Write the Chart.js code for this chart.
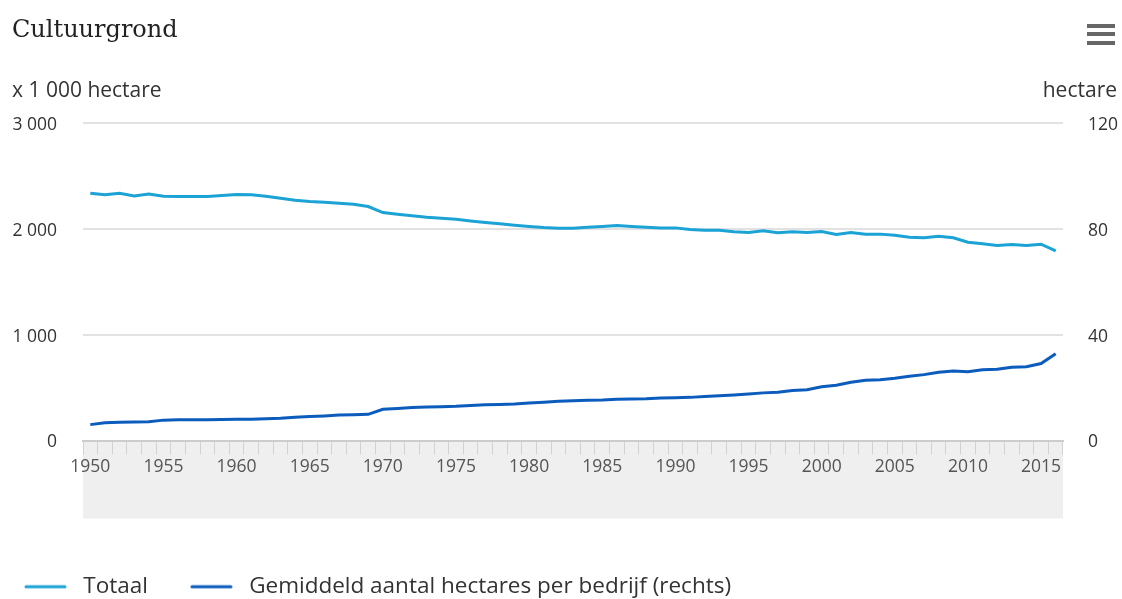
<!DOCTYPE html>
<html lang="nl">
<head>
<meta charset="utf-8">
<title>Cultuurgrond</title>
<script src="https://cdn.jsdelivr.net/npm/chart.js@4.4.1/dist/chart.umd.min.js"></script>
<style>
  html, body { margin: 0; padding: 0; background: #ffffff; }
  #wrap { width: 1122px; height: 599px; position: relative; }
</style>
</head>
<body>
<div id="wrap"><canvas id="landChart"></canvas></div>
<script>
// Years on the x axis
const years = [
    1950, 1951, 1952, 1953, 1954, 1955, 1956, 1957, 1958, 1959,
    1960, 1961, 1962, 1963, 1964, 1965, 1966, 1967, 1968, 1969,
    1970, 1971, 1972, 1973, 1974, 1975, 1976, 1977, 1978, 1979,
    1980, 1981, 1982, 1983, 1984, 1985, 1986, 1987, 1988, 1989,
    1990, 1991, 1992, 1993, 1994, 1995, 1996, 1997, 1998, 1999,
    2000, 2001, 2002, 2003, 2004, 2005, 2006, 2007, 2008, 2009,
    2010, 2011, 2012, 2013, 2014, 2015, 2016
];

// Totaal, x 1 000 hectare (left axis)
const totaal = [
    2337, 2321, 2337, 2311, 2330, 2308, 2305, 2305, 2305, 2314,
    2324, 2321, 2308, 2289, 2270, 2258, 2252, 2242, 2233, 2211,
    2154, 2138, 2123, 2110, 2101, 2091, 2075, 2060, 2047, 2034,
    2022, 2012, 2006, 2006, 2016, 2022, 2031, 2022, 2016, 2009,
    2009, 1994, 1987, 1987, 1972, 1965, 1981, 1962, 1972, 1965,
    1975, 1946, 1965, 1950, 1950, 1940, 1921, 1915, 1931, 1915,
    1874, 1858, 1843, 1852, 1843, 1855, 1792
];

// Gemiddeld aantal hectares per bedrijf (right axis)
const gemiddeld = [
    6.0, 6.7, 6.9, 7.0, 7.1, 7.7, 7.8, 7.8, 7.8, 7.9,
    8.0, 8.0, 8.2, 8.4, 8.8, 9.1, 9.3, 9.6, 9.7, 9.9,
    11.8, 12.1, 12.5, 12.7, 12.8, 12.9, 13.2, 13.5, 13.6, 13.8,
    14.2, 14.5, 14.8, 15.0, 15.2, 15.3, 15.6, 15.7, 15.8, 16.1,
    16.2, 16.3, 16.6, 16.9, 17.2, 17.6, 18.0, 18.2, 18.9, 19.2,
    20.3, 20.9, 22.0, 22.8, 23.0, 23.5, 24.3, 24.9, 25.8, 26.3,
    26.0, 26.7, 26.9, 27.7, 27.9, 29.1, 32.8
];

const leftTicks = [0, 1000, 2000, 3000];
const rightTicks = [0, 40, 80, 120];

const colorTotaal = "#1ba3d6";
const colorGemiddeld = "#0b5cbd";
const sansFont = "'Open Sans', 'DejaVu Sans', sans-serif";

// little line sample for the legend, with some empty room left and right
function legendSample(color) {
    let c = document.createElement("canvas");
    c.width = 65;
    c.height = 6;
    let g = c.getContext("2d");
    g.strokeStyle = color;
    g.lineWidth = 3;
    g.lineCap = "round";
    g.beginPath();
    g.moveTo(19, 3);
    g.lineTo(58, 3);
    g.stroke();
    return c;
}

function spaced(v) {
    return String(v).replace(/\B(?=(\d{3})+(?!\d))/g, " ");
}

// grey band under the plot, title, axis captions and menu icon
const decorations = {
    id: "decorations",
    beforeDraw(chart) {
        let ctx = chart.ctx;
        let a = chart.chartArea;
        ctx.save();
        ctx.fillStyle = "#efefef";
        ctx.fillRect(a.left, a.bottom, a.right - a.left, 78);
        ctx.restore();
    },
    afterDraw(chart) {
        let ctx = chart.ctx;
        ctx.save();
        ctx.fillStyle = "#222222";
        ctx.textBaseline = "alphabetic";
        ctx.font = "24px 'DejaVu Serif', serif";
        ctx.textAlign = "left";
        ctx.fillText("Cultuurgrond", 12, 37);

        ctx.fillStyle = "#333333";
        ctx.font = "21px " + sansFont;
        ctx.fillText("x 1 000 hectare", 12, 97);
        ctx.textAlign = "right";
        ctx.fillText("hectare", 1117, 97);

        ctx.fillStyle = "#666666";
        [24, 32, 41].forEach(y => ctx.fillRect(1087, y, 28, 4));
        ctx.restore();
    }
};

document.addEventListener("DOMContentLoaded", function () {
    let ctx = document.getElementById("landChart").getContext("2d");

    new Chart(ctx, {
        type: "line",
        data: {
            labels: years,
            datasets: [
                {
                    label: "Totaal",
                    data: totaal,
                    yAxisID: "y",
                    borderColor: colorTotaal,
                    backgroundColor: colorTotaal,
                    borderWidth: 3,
                    pointRadius: 0,
                    pointHoverRadius: 0,
                    pointStyle: legendSample(colorTotaal),
                    tension: 0,
                    fill: false
                },
                {
                    label: "Gemiddeld aantal hectares per bedrijf (rechts)",
                    data: gemiddeld,
                    yAxisID: "y1",
                    borderColor: colorGemiddeld,
                    backgroundColor: colorGemiddeld,
                    borderWidth: 3,
                    pointRadius: 0,
                    pointHoverRadius: 0,
                    pointStyle: legendSample(colorGemiddeld),
                    tension: 0,
                    fill: false
                }
            ]
        },
        options: {
            responsive: true,
            maintainAspectRatio: false,
            animation: false,
            layout: { padding: { top: 123, left: -18, right: 0, bottom: -9 } },
            plugins: {
                title: { display: false },
                tooltip: { enabled: false },
                legend: {
                    position: "bottom",
                    align: "start",
                    labels: {
                        usePointStyle: true,
                        pointStyleWidth: 65,
                        padding: 25,
                        color: "#333333",
                        font: { family: sansFont, size: 22.5 }
                    }
                }
            },
            scales: {
                x: {
                    offset: true,
                    grid: {
                        offset: true,
                        drawOnChartArea: false,
                        drawTicks: true,
                        tickLength: 14,
                        color: "#d2d2d2",
                        lineWidth: 1
                    },
                    border: { display: true, color: "#cccccc", width: 2 },
                    ticks: {
                        autoSkip: false,
                        maxRotation: 0,
                        padding: 2,
                        color: "#555555",
                        font: { family: sansFont, size: 17.5 },
                        callback: function (value, index) {
                            let yr = years[index];
                            return yr % 5 === 0 ? String(yr) : "";
                        }
                    },
                    afterFit: scale => { scale.height = 110; }
                },
                y: {
                    position: "left",
                    min: leftTicks[0],
                    max: leftTicks[leftTicks.length - 1],
                    afterBuildTicks: scale => { scale.ticks = leftTicks.map(v => ({ value: v })); },
                    grid: { color: "#e2e2e2", lineWidth: 2, drawTicks: false },
                    border: { display: false },
                    ticks: {
                        padding: 26,
                        labelOffset: 2,
                        color: "#333333",
                        font: { family: sansFont, size: 17.5 },
                        callback: v => spaced(v)
                    },
                    afterFit: scale => { scale.width = 101; }
                },
                y1: {
                    position: "right",
                    min: rightTicks[0],
                    max: rightTicks[rightTicks.length - 1],
                    afterBuildTicks: scale => { scale.ticks = rightTicks.map(v => ({ value: v })); },
                    grid: { drawOnChartArea: false, drawTicks: false },
                    border: { display: false },
                    ticks: {
                        padding: 25,
                        labelOffset: 2,
                        color: "#333333",
                        font: { family: sansFont, size: 17.5 },
                        callback: v => spaced(v)
                    },
                    afterFit: scale => { scale.width = 59; }
                }
            }
        },
        plugins: [decorations]
    });
});
</script>
</body>
</html>
